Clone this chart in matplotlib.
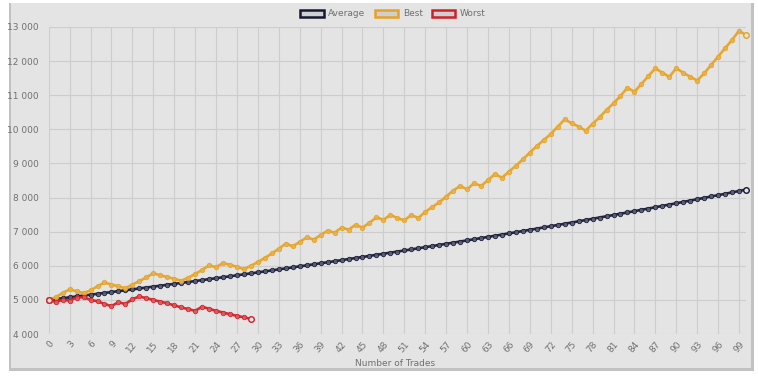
import matplotlib
matplotlib.use("Agg")
import matplotlib.pyplot as plt
from matplotlib.patches import Rectangle
from matplotlib.ticker import FuncFormatter, FixedLocator

trades = list(range(101))

average = [5000, 5025, 5050, 5075, 5101, 5126, 5152, 5178, 5204, 5230,
           5256, 5282, 5308, 5335, 5362, 5388, 5415, 5442, 5470, 5497,
           5524, 5552, 5580, 5608, 5636, 5664, 5692, 5721, 5749, 5778,
           5807, 5836, 5865, 5895, 5924, 5954, 5983, 6013, 6043, 6074,
           6104, 6134, 6165, 6196, 6227, 6258, 6289, 6321, 6352, 6384,
           6416, 6448, 6480, 6513, 6545, 6578, 6611, 6644, 6677, 6711,
           6744, 6778, 6812, 6846, 6880, 6915, 6949, 6984, 7019, 7054,
           7089, 7125, 7160, 7196, 7232, 7268, 7304, 7341, 7378, 7415,
           7452, 7489, 7526, 7564, 7602, 7640, 7678, 7716, 7755, 7794,
           7833, 7872, 7911, 7951, 7991, 8031, 8071, 8111, 8152, 8192,
           8233]

best = [5000, 5080, 5200, 5310, 5250, 5200, 5280, 5400, 5510, 5450,
        5400, 5340, 5450, 5550, 5660, 5780, 5720, 5670, 5620, 5560,
        5650, 5760, 5880, 6010, 5960, 6080, 6030, 5970, 5900, 6000,
        6110, 6230, 6360, 6500, 6650, 6570, 6700, 6830, 6770, 6900,
        7030, 6970, 7120, 7060, 7200, 7120, 7260, 7420, 7350, 7490,
        7400, 7330, 7490, 7400, 7580, 7720, 7860, 8030, 8200, 8340,
        8240, 8420, 8340, 8510, 8690, 8580, 8760, 8930, 9120, 9320,
        9510, 9690, 9860, 10080, 10290, 10180, 10080, 9960, 10160, 10350,
        10570, 10760, 10980, 11220, 11100, 11330, 11560, 11790, 11660, 11540,
        11790, 11660, 11540, 11430, 11640, 11890, 12130, 12380, 12620, 12890,
        12760]

worst = [5000, 4940, 5000, 4980, 5070, 5080, 5000, 4960, 4880, 4820,
         4930, 4880, 5020, 5100, 5050, 5000, 4950, 4900, 4840, 4780,
         4730, 4680, 4800, 4740, 4680, 4630, 4580, 4530, 4490, 4440]

series_names = ["Average", "Best", "Worst"]
series_colors = ["#141830", "#e6a323", "#d11f26"]
marker_fills = ["#5a5f7a", "#eab14a", "#dd5a5f"]

W, H = 758, 379
fig = plt.figure(figsize=(W / 100, H / 100), dpi=100)
fig.patch.set_facecolor("white")

# card shadow + card
fig.patches.append(Rectangle((9 / W, 1 - 371 / H), 745 / W, 368 / H,
                             transform=fig.transFigure, facecolor="#9a9a9a",
                             edgecolor="none", alpha=0.6, zorder=-3))
fig.patches.append(Rectangle((11 / W, 1 - 368 / H), 740 / W, 365 / H,
                             transform=fig.transFigure, facecolor="#e4e4e4",
                             edgecolor="none", zorder=-2))

ax = fig.add_axes([48.7 / W, 1 - 334 / H, (746 - 48.7) / W, (334 - 27) / H])
ax.set_facecolor("none")
ax.set_zorder(1)

x_w = trades[:len(worst)]
data = [(trades, average), (trades, best), (x_w, worst)]
for (xs, ys), name, col, mf in zip(data, series_names, series_colors, marker_fills):
    ax.plot(xs, ys, color=col, lw=1.9, marker="o", markersize=3.2,
            markerfacecolor=mf, markeredgecolor=col, markeredgewidth=0.6,
            alpha=0.92, label=name, zorder=3, clip_on=False)
    ax.plot([xs[0], xs[-1]], [ys[0], ys[-1]], ls="none", marker="o",
            markersize=4.0, markerfacecolor="#e4e4e4", markeredgecolor=col,
            markeredgewidth=1.0, zorder=4, clip_on=False)

ax.set_xlim(0, 100)
ax.set_ylim(4000, 13000)
ax.xaxis.set_major_locator(FixedLocator(trades[::3]))
ax.set_yticks(range(4000, 13001, 1000))
ax.yaxis.set_major_formatter(FuncFormatter(lambda v, p: f"{int(v):,}".replace(",", " ")))
ax.grid(True, color="#cdcdcd", lw=0.8)
ax.set_axisbelow(True)
for s in ax.spines.values():
    s.set_visible(False)
ax.tick_params(axis="both", length=0, colors="#707070", labelsize=6.5)
ax.tick_params(axis="y", pad=7)
ax.tick_params(axis="x", pad=4)
for lbl in ax.get_xticklabels():
    lbl.set_rotation(50)
    lbl.set_ha("right")
    lbl.set_rotation_mode("anchor")

fig.text(395 / W, 1 - 364 / H, "Number of Trades", ha="center", va="center",
         fontsize=6.5, color="#707070")

handles = [Rectangle((0, 0), 1, 1, facecolor="#cfcfd3", edgecolor=c, lw=1.8)
           for c in series_colors]
leg = fig.legend(handles, series_names, loc="center", ncol=3,
                 bbox_to_anchor=(393 / W, 1 - 14 / H), frameon=False,
                 fontsize=6.5, handlelength=2.6, handleheight=0.9,
                 columnspacing=1.0, handletextpad=0.5)
for t in leg.get_texts():
    t.set_color("#707070")

fig.savefig("out.png", dpi=100, facecolor=fig.get_facecolor())
